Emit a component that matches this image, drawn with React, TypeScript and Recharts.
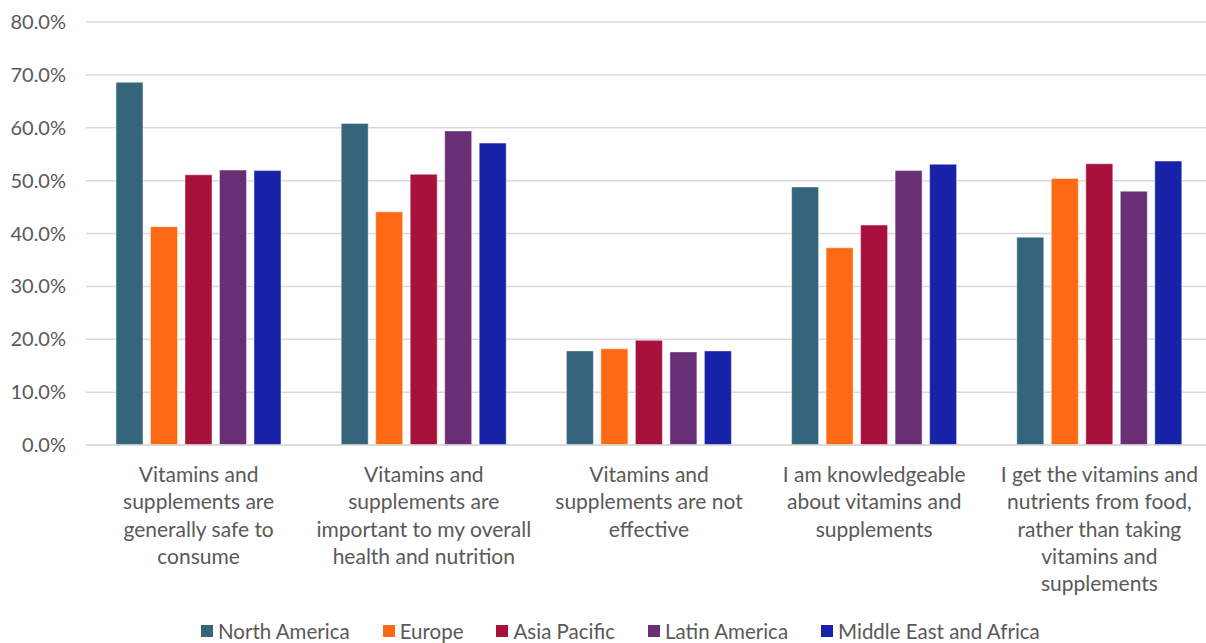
import React from 'react';
import { BarChart, Bar, XAxis, YAxis, CartesianGrid, Legend } from 'recharts';

// Survey statements (line breaks mark where the axis label wraps)
const categories = [
  'Vitamins and\nsupplements are\ngenerally safe to\nconsume',
  'Vitamins and\nsupplements are\nimportant to my overall\nhealth and nutrition',
  'Vitamins and\nsupplements are not\neffective',
  'I am knowledgeable\nabout vitamins and\nsupplements',
  'I get the vitamins and\nnutrients from food,\nrather than taking\nvitamins and\nsupplements',
];

// Share of respondents agreeing, in percent
const northAmerica = [68.6, 60.8, 17.8, 48.8, 39.3];
const europe = [41.3, 44.1, 18.2, 37.3, 50.4];
const asiaPacific = [51.1, 51.2, 19.8, 41.6, 53.2];
const latinAmerica = [52.0, 59.4, 17.6, 51.9, 48.0];
const middleEastAfrica = [51.9, 57.1, 17.8, 53.1, 53.7];

const yTicks = [0, 10, 20, 30, 40, 50, 60, 70, 80];

const series = [
  { key: 'na', name: 'North America', values: northAmerica, color: '#35657b' },
  { key: 'eu', name: 'Europe', values: europe, color: '#fe6a14' },
  { key: 'ap', name: 'Asia Pacific', values: asiaPacific, color: '#a7113c' },
  { key: 'la', name: 'Latin America', values: latinAmerica, color: '#682f75' },
  { key: 'mea', name: 'Middle East and Africa', values: middleEastAfrica, color: '#1722a8' },
];

const data = categories.map((category, i) => {
  const row: Record<string, string | number> = { category };
  series.forEach((s) => {
    row[s.key] = s.values[i];
  });
  return row;
});

const FONT = 'Lato, sans-serif';
const TEXT = '#595959';

// Multi-line category label under each group
const CategoryTick = (props: any) => {
  const { x, y, payload } = props;
  const lines = String(payload.value).split('\n');
  return (
    <text x={x} y={y} textAnchor="middle" fill={TEXT} fontSize={21} fontFamily={FONT}>
      {lines.map((line, i) => (
        <tspan key={i} x={x} dy={i === 0 ? 29 : 27.3}>
          {line}
        </tspan>
      ))}
    </text>
  );
};

const LegendContent = () => (
  <div
    style={{
      height: 24,
      display: 'flex',
      alignItems: 'center',
      paddingLeft: 201,
      gap: 33,
      fontFamily: FONT,
      fontSize: 20.5,
      color: TEXT,
    }}
  >
    {series.map((s) => (
      <div key={s.key} style={{ display: 'flex', alignItems: 'center', gap: 5 }}>
        <span style={{ width: 12, height: 12, background: s.color, display: 'inline-block' }} />
        <span>{s.name}</span>
      </div>
    ))}
  </div>
);

const App = () => {
  return (
    <div style={{ position: 'absolute', left: 0, top: 0, width: 1206, height: 643, overflow: 'hidden', background: '#fff' }}>
      <BarChart
        width={1212}
        height={643}
        data={data}
        margin={{ top: 22, right: 0, left: 0, bottom: 0 }}
        barSize={27}
        barGap={7.5}
      >
        <CartesianGrid vertical={false} stroke="#d9d9d9" strokeWidth={1.5} />
        <XAxis
          dataKey="category"
          height={174}
          interval={0}
          tick={<CategoryTick />}
          tickLine={false}
          axisLine={{ stroke: '#d9d9d9', strokeWidth: 1.5 }}
        />
        <YAxis
          width={86}
          domain={[0, 80]}
          ticks={yTicks}
          tickFormatter={(v: number) => `${v.toFixed(1)}%`}
          axisLine={false}
          tickLine={false}
          tickSize={0}
          tickMargin={20}
          tick={{ fill: TEXT, fontSize: 20, fontFamily: FONT }}
        />
        <Legend verticalAlign="bottom" content={<LegendContent />} />
        {series.map((s) => (
          <Bar
            key={s.key}
            dataKey={s.key}
            name={s.name}
            fill={s.color}
            stroke="#ffffff"
            strokeOpacity={0.45}
            strokeWidth={1}
            isAnimationActive={false}
          />
        ))}
      </BarChart>
    </div>
  );
};

export default App;
